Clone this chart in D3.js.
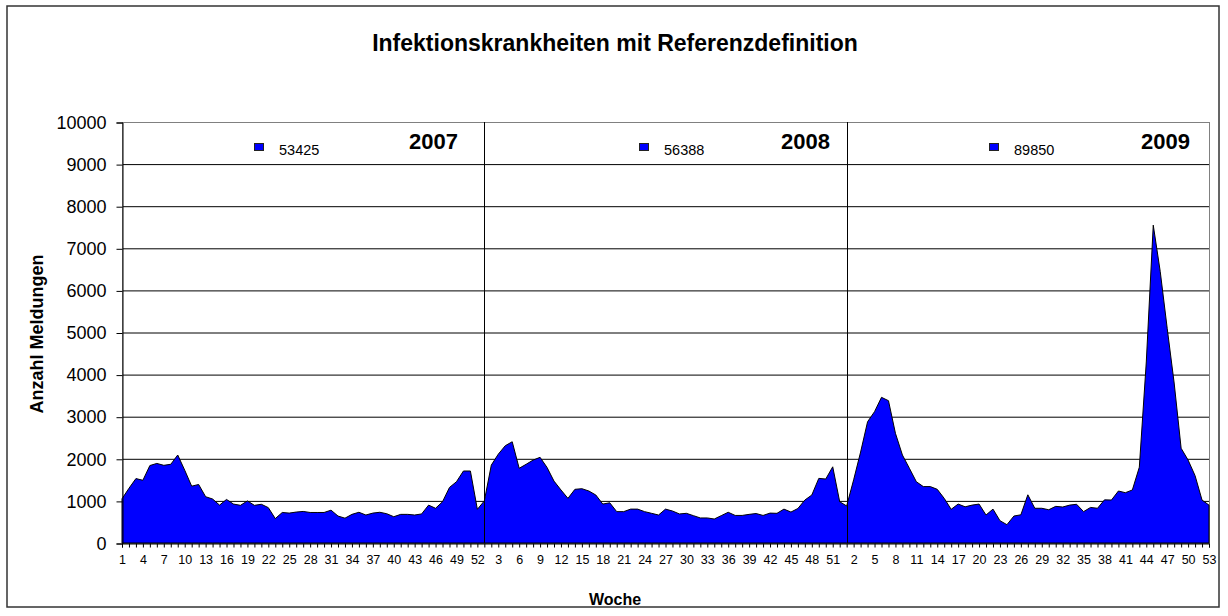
<!DOCTYPE html>
<html>
<head>
<meta charset="utf-8">
<script src="https://cdn.jsdelivr.net/npm/d3@7"></script>
<style>
  body { margin: 0; background: #fff; }
  svg { font-family: Arial, "Liberation Sans", sans-serif; }
</style>
</head>
<body>
<svg id="chart" width="1228" height="616"></svg>
<script>

// weekly counts per year
let years = ["2007", "2008", "2009"];
let totals = ["53425", "56388", "89850"];

let weeks2007 = [1050,1300,1530,1490,1840,1890,1845,1870,2090,1730,1350,1390,1100,1045,900,1035,
  925,895,1000,895,920,840,580,725,710,735,750,725,725,725,780,640,590,680,730,665,710,730,695,
  625,680,680,665,690,900,825,980,1320,1455,1710,1710,800];

let weeks2008 = [1000,1850,2110,2310,2405,1775,1870,1970,2035,1795,1470,1260,1060,1275,1290,1235,
  1140,925,955,745,745,805,805,745,705,665,805,760,690,705,650,595,595,570,650,730,655,655,680,
  700,655,710,705,805,735,820,1020,1140,1535,1520,1810,980];

let weeks2009 = [880,1500,2160,2880,3120,3460,3380,2605,2090,1775,1455,1340,1340,1275,1060,800,
  925,860,900,925,665,805,530,435,640,670,1145,825,825,790,870,855,900,920,745,845,825,1025,1020,
  1235,1195,1260,1800,4300,7550,6450,5100,3800,2250,1970,1600,1020,900];

let yTicks = [0,1000,2000,3000,4000,5000,6000,7000,8000,9000,10000];

// flatten into one category axis
let data = [];
[weeks2007, weeks2008, weeks2009].forEach(function(arr, k){
  arr.forEach(function(v, j){
    data.push({ key: years[k] + "-" + (j + 1), year: years[k], week: j + 1, value: v });
  });
});

let chart = d3.select("#chart");
let plotLeft = 122, plotRight = 1209, plotTop = 122, plotBottom = 543;

let x = d3.scalePoint()
  .domain(data.map(function(d){ return d.key; }))
  .range([plotLeft, plotRight]);

let y = d3.scaleLinear()
  .domain([0, 10000])
  .range([plotBottom, plotTop]);

// outer frame
chart.append("rect")
  .attr("x", 7).attr("y", 6).attr("width", 1212).attr("height", 601)
  .attr("fill", "none").attr("stroke", "#333").attr("stroke-width", 1.5);

// title
chart.append("text")
  .attr("x", 615).attr("y", 51)
  .attr("text-anchor", "middle")
  .attr("font-size", 23).attr("font-weight", "bold")
  .text("Infektionskrankheiten mit Referenzdefinition");

// gridlines
chart.append("g")
  .selectAll("line")
  .data(yTicks).enter()
    .append("line")
      .attr("x1", plotLeft).attr("x2", plotRight)
      .attr("y1", function(d){ return y(d) + 0.5; })
      .attr("y2", function(d){ return y(d) + 0.5; })
      .attr("stroke", "#000").attr("stroke-width", 1);

// plot border
chart.append("rect")
  .attr("x", plotLeft + 0.5).attr("y", plotTop + 0.5)
  .attr("width", plotRight - plotLeft).attr("height", plotBottom - plotTop)
  .attr("fill", "none").attr("stroke", "#808080").attr("stroke-width", 1);

// area
let area = d3.area()
  .x(function(d){ return x(d.key); })
  .y0(y(0))
  .y1(function(d){ return y(d.value); });

chart.append("path")
  .datum(data)
  .attr("d", area)
  .attr("fill", "#0000ff")
  .attr("stroke", "#000")
  .attr("stroke-width", 1)
  .attr("stroke-linejoin", "round");

// year separators at week 1
chart.append("g")
  .selectAll("line")
  .data(years.slice(1)).enter()
    .append("line")
      .attr("x1", function(d){ return Math.round(x(d + "-1")) + 0.5; })
      .attr("x2", function(d){ return Math.round(x(d + "-1")) + 0.5; })
      .attr("y1", plotTop).attr("y2", plotBottom)
      .attr("stroke", "#000").attr("stroke-width", 1);

// y axis
let yAxis = d3.axisLeft(y)
  .tickValues(yTicks)
  .tickFormat(d3.format("d"))
  .tickSize(6)
  .tickPadding(10);

chart.append("g")
  .attr("transform", "translate(" + (plotLeft + 0.5) + ",0.5)")
  .call(yAxis)
  .call(function(g){
    g.select(".domain").attr("stroke", "#000");
    g.selectAll(".tick line").attr("stroke", "#000");
    g.selectAll(".tick text")
      .attr("font-size", 18).attr("fill", "#000")
      .attr("font-family", "Arial, 'Liberation Sans', sans-serif");
  });

// x axis, label every third week
let xAxis = d3.axisBottom(x)
  .tickSize(4)
  .tickPadding(8)
  .tickFormat(function(d, i){ return i % 3 === 0 ? d.split("-")[1] : ""; });

chart.append("g")
  .attr("transform", "translate(0," + (plotBottom + 0.5) + ")")
  .call(xAxis)
  .call(function(g){
    g.select(".domain").attr("stroke", "#000");
    g.selectAll(".tick line").attr("stroke", "#000");
    g.selectAll(".tick text")
      .attr("font-size", 12.5).attr("fill", "#000")
      .attr("font-family", "Arial, 'Liberation Sans', sans-serif");
  });

// axis titles
chart.append("text")
  .attr("x", 615).attr("y", 605)
  .attr("text-anchor", "middle")
  .attr("font-size", 16).attr("font-weight", "bold")
  .text("Woche");

chart.append("text")
  .attr("transform", "translate(43,334) rotate(-90)")
  .attr("text-anchor", "middle")
  .attr("font-size", 18).attr("font-weight", "bold")
  .text("Anzahl Meldungen");

// per-year legend: square, total, year
let legendX = [254, 639, 989];
let yearRight = [458, 830, 1190];

years.forEach(function(yr, k){
  chart.append("rect")
    .attr("x", legendX[k] + 0.5).attr("y", 143.5)
    .attr("width", 9).attr("height", 7)
    .attr("fill", "#0000ff").attr("stroke", "#222").attr("stroke-width", 1);
  chart.append("text")
    .attr("x", legendX[k] + 25).attr("y", 155)
    .attr("font-size", 14.5)
    .text(totals[k]);
  chart.append("text")
    .attr("x", yearRight[k]).attr("y", 149)
    .attr("text-anchor", "end")
    .attr("font-size", 22).attr("font-weight", "bold")
    .text(yr);
});

</script>
</body>
</html>
